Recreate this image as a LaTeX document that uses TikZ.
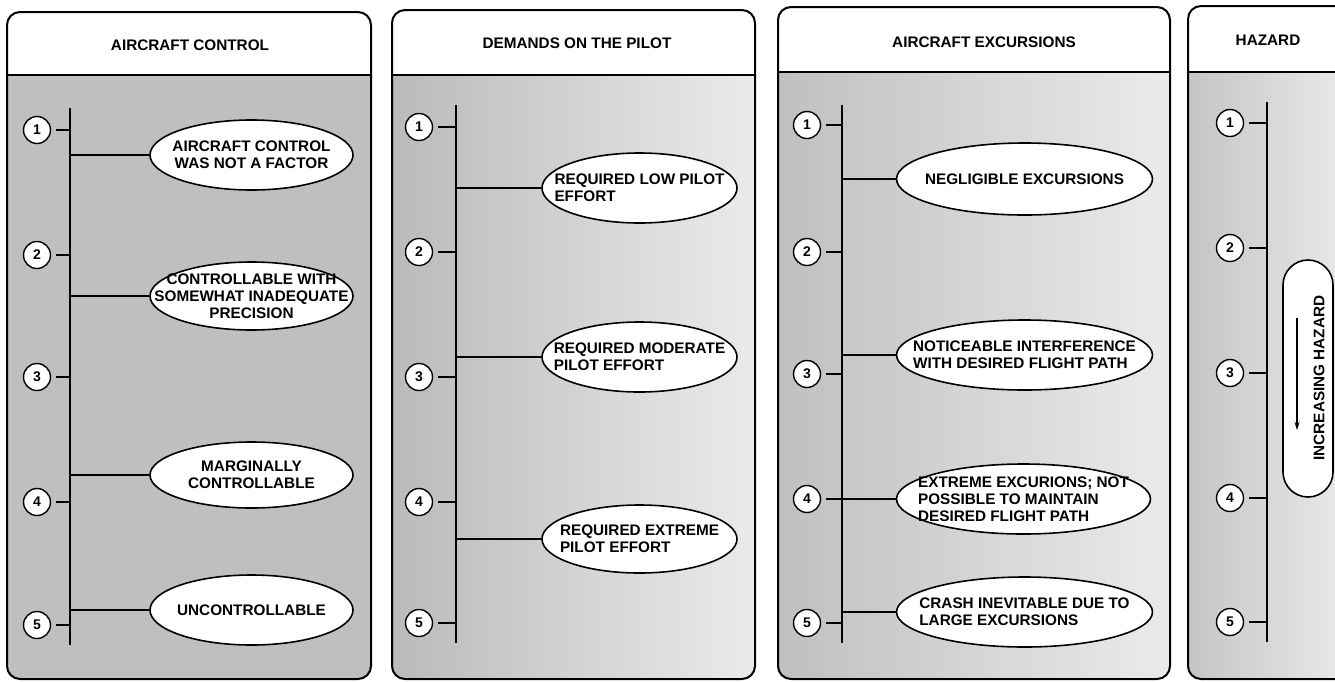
\documentclass[tikz,border=0pt]{standalone}
\usepackage{fontspec}
\setmainfont{Liberation Sans}
\usetikzlibrary{shapes.geometric,arrows.meta}
\tikzset{
  panelborder/.style={line width=2pt, rounded corners=13pt},
  headline/.style={line width=1.6pt},
  num/.style={circle, draw, line width=1.4pt, fill=white, minimum size=27pt, inner sep=0pt,
    font=\fontsize{14}{14}\selectfont\bfseries},
  item/.style={ellipse, draw, line width=1.6pt, fill=white, inner sep=0pt},
  pill/.style={rectangle, rounded corners=25pt, draw, line width=1.6pt, fill=white, inner sep=0pt},
  itemtext/.style={font=\fontsize{15.3}{17}\selectfont\bfseries, inner sep=0pt},
  ttl/.style={font=\fontsize{15.3}{17}\selectfont\bfseries},
  axisline/.style={line width=1.5pt},
  link/.style={line width=1.2pt},
  tickline/.style={line width=1.2pt},
}
\begin{document}
\begin{tikzpicture}[x=1pt,y=-1pt]
\clip (0,0) rectangle (1335,681);
\fill[white] (0,0) rectangle (1335,681);

% ---------------- panel 1 ----------------
\begin{scope}
  \clip[rounded corners=13pt] (7,12) rectangle (371,679);
  \fill[black!25] (7,75) rectangle (371,679);
\end{scope}
\draw[panelborder] (7,12) rectangle (371,679);
\draw[headline] (7,75) -- (371,75);
\node[ttl] (t1) at (190,45) {AIRCRAFT CONTROL};
\coordinate (atop) at (70,108);
\coordinate (abot) at (70,645);
\draw[axisline] (atop) -- (abot);
\foreach \n/\y in {1/130,2/255,3/377,4/502,5/625}{
  \node[num] (a\n) at (37,\y) {\n};
  \draw[tickline] ([xshift=5pt]a\n.east) -- (a\n -| atop);
}
\node[item, minimum width=203pt, minimum height=70pt,
  label={[itemtext,align=center]center:{AIRCRAFT CONTROL\\WAS NOT A FACTOR}}] (ae1) at (251.5,155) {};
\node[item, minimum width=203pt, minimum height=68pt,
  label={[itemtext,align=center]center:{CONTROLLABLE WITH\\SOMEWHAT INADEQUATE\\PRECISION}}] (ae2) at (251.5,296) {};
\node[item, minimum width=203pt, minimum height=66pt,
  label={[itemtext,align=center]center:{MARGINALLY\\CONTROLLABLE}}] (ae3) at (251.5,475) {};
\node[item, minimum width=203pt, minimum height=70pt,
  label={[itemtext,align=center]center:{UNCONTROLLABLE}}] (ae4) at (251.5,610) {};
\foreach \e in {ae1,ae2,ae3,ae4}{ \draw[link] (\e.west) -- (\e.west -| atop); }

% ---------------- panel 2 ----------------
\begin{scope}
  \clip[rounded corners=13pt] (392,10) rectangle (755,679);
  \shade[left color=black!27, right color=black!8] (392,75) rectangle (755,679);
\end{scope}
\draw[panelborder] (392,10) rectangle (755,679);
\draw[headline] (392,75) -- (755,75);
\node[ttl] (t2) at (577,43) {DEMANDS ON THE PILOT};
\coordinate (btop) at (456,105);
\coordinate (bbot) at (456,643);
\draw[axisline] (btop) -- (bbot);
\foreach \n/\y in {1/127,2/252,3/377,4/502,5/623}{
  \node[num] (b\n) at (419,\y) {\n};
  \draw[tickline] ([xshift=5pt]b\n.east) -- (b\n -| btop);
}
\node[item, minimum width=195pt, minimum height=70pt,
  label={[itemtext,align=left]center:{REQUIRED LOW PILOT\\EFFORT}}] (be1) at (639.5,188) {};
\node[item, minimum width=195pt, minimum height=70pt,
  label={[itemtext,align=left]center:{REQUIRED MODERATE\\PILOT EFFORT}}] (be2) at (639.5,357) {};
\node[item, minimum width=195pt, minimum height=68pt,
  label={[itemtext,align=left]center:{REQUIRED EXTREME\\PILOT EFFORT}}] (be3) at (639.5,539) {};
\foreach \e in {be1,be2,be3}{ \draw[link] (\e.west) -- (\e.west -| btop); }

% ---------------- panel 3 ----------------
\begin{scope}
  \clip[rounded corners=13pt] (778,7) rectangle (1170,679);
  \shade[left color=black!25, right color=black!8] (778,72) rectangle (1170,679);
\end{scope}
\draw[panelborder] (778,7) rectangle (1170,679);
\draw[headline] (778,72) -- (1170,72);
\node[ttl] (t3) at (984,42) {AIRCRAFT EXCURSIONS};
\coordinate (ctop) at (842,105);
\coordinate (cbot) at (842,643);
\draw[axisline] (ctop) -- (cbot);
\foreach \n/\y in {1/125,2/252,3/374,4/499,5/623}{
  \node[num] (c\n) at (807,\y) {\n};
  \draw[tickline] ([xshift=5pt]c\n.east) -- (c\n -| ctop);
}
\node[item, minimum width=256pt, minimum height=72pt,
  label={[itemtext,align=center]center:{NEGLIGIBLE EXCURSIONS}}] (ce1) at (1024.5,179) {};
\node[item, minimum width=256pt, minimum height=70pt,
  label={[itemtext,align=left]center:{NOTICEABLE INTERFERENCE\\WITH DESIRED FLIGHT PATH}}] (ce2) at (1024.5,355) {};
\node[item, minimum width=254pt, minimum height=70pt,
  label={[itemtext,align=left]center:{EXTREME EXCURIONS; NOT\\POSSIBLE TO MAINTAIN\\DESIRED FLIGHT PATH}}] (ce3) at (1023.5,499) {};
\node[item, minimum width=256pt, minimum height=70pt,
  label={[itemtext,align=left]center:{CRASH INEVITABLE DUE TO\\LARGE EXCURSIONS}}] (ce4) at (1024.5,612) {};
\foreach \e in {ce1,ce2,ce3,ce4}{ \draw[link] (\e.west) -- (\e.west -| ctop); }

% ---------------- panel 4 ----------------
\begin{scope}
  \clip[rounded corners=13pt] (1188,6) rectangle (1360,679);
  \shade[left color=black!23, right color=black!7] (1188,72) rectangle (1360,679);
\end{scope}
\draw[panelborder] (1188,6) rectangle (1360,679);
\draw[headline] (1188,72) -- (1360,72);
\node[ttl] (t4) at (1268,40) {HAZARD};
\coordinate (dtop) at (1267,102);
\coordinate (dbot) at (1267,642);
\draw[axisline] (dtop) -- (dbot);
\foreach \n/\y in {1/123,2/248,3/373,4/498,5/622}{
  \node[num] (d\n) at (1230,\y) {\n};
  \draw[tickline] ([xshift=5pt]d\n.east) -- (d\n -| dtop);
}
\node[pill, minimum width=50pt, minimum height=237pt] (de1) at (1308,378.5) {};
\node[itemtext, rotate=90] (dlab) at (1319,378) {INCREASING HAZARD};
\coordinate (arrtop) at (1297,318);
\coordinate (arrbot) at (1297,430);
\draw[line width=1.3pt, -{Stealth[length=8pt,width=5pt]}] (arrtop) -- (arrbot);
\end{tikzpicture}
\end{document}
